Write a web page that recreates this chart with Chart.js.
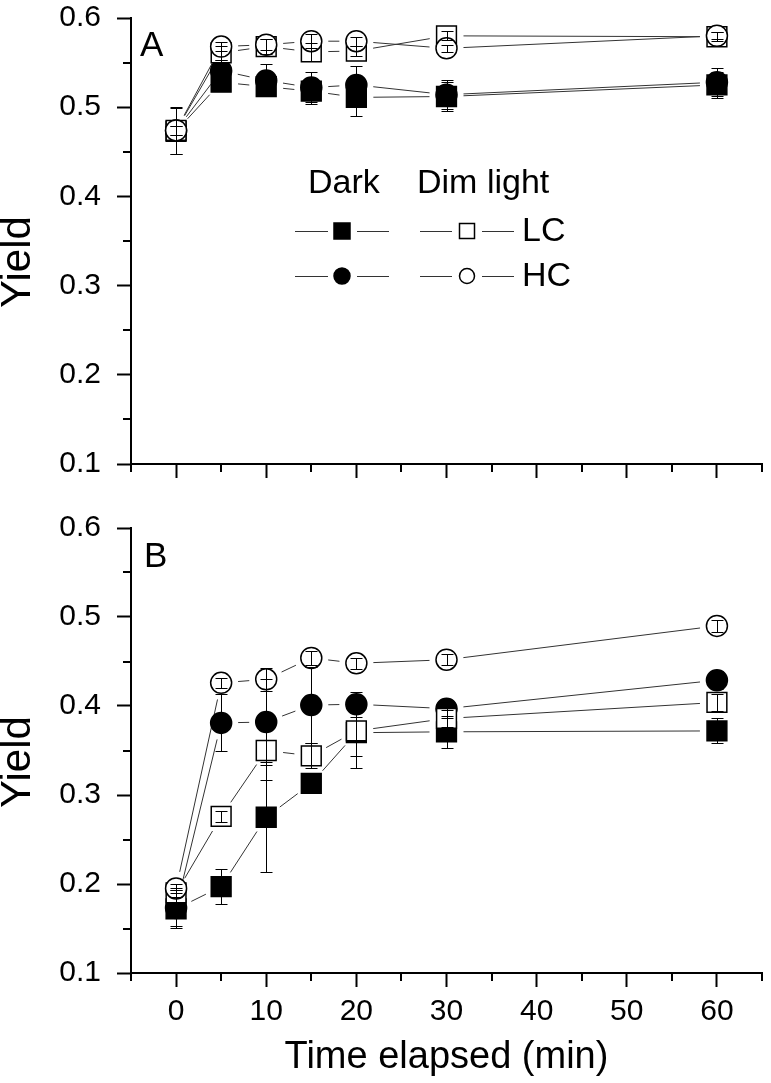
<!DOCTYPE html>
<html>
<head>
    <title>Yield over time</title>
    <script src="https://cdn.jsdelivr.net/npm/chart.js"></script>
    <style>
        body { margin: 0; background: #fff; }
        #wrap { position: relative; width: 771px; height: 1083px; }
        #chartA { position: absolute; left: 0; top: 0; }
        #chartB { position: absolute; left: 0; top: 490px; }
    </style>
</head>
<body>
    <div id="wrap">
        <canvas id="chartA" width="771" height="490"></canvas>
        <canvas id="chartB" width="771" height="593"></canvas>
    </div>

    <script>
        // time points (min) and axis ticks
        const times = [0, 5, 10, 15, 20, 30, 60];
        const xTicks = [0, 10, 20, 30, 40, 50, 60];
        const xMinor = [-5, 5, 15, 25, 35, 45, 55, 65];
        const yTicks = [0.1, 0.2, 0.3, 0.4, 0.5, 0.6];
        const yMinor = [0.15, 0.25, 0.35, 0.45, 0.55];

        // Panel A
        const aDarkLC = [0.473, 0.528, 0.523, 0.518, 0.511, 0.512, 0.525];
        const aDarkLCErr = [0.026, 0.010, 0.010, 0.012, 0.021, 0.016, 0.015];
        const aDarkHC = [0.474, 0.541, 0.530, 0.522, 0.525, 0.514, 0.528];
        const aDarkHCErr = [0.026, 0.012, 0.018, 0.018, 0.021, 0.016, 0.016];
        const aDimLC = [0.474, 0.561, 0.568, 0.562, 0.563, 0.580, 0.579];
        const aDimLCErr = [0.005, 0.008, 0.008, 0.010, 0.006, 0.005, 0.005];
        const aDimHC = [0.474, 0.568, 0.570, 0.574, 0.574, 0.566, 0.580];
        const aDimHCErr = [0.005, 0.005, 0.006, 0.008, 0.005, 0.004, 0.004];

        // Panel B
        const bDarkLC = [0.172, 0.197, 0.275, 0.313, 0.370, 0.371, 0.372];
        const bDarkLCErr = [0.021, 0.020, 0.062, 0.008, 0.040, 0.018, 0.014];
        const bDarkHC = [0.173, 0.381, 0.382, 0.401, 0.402, 0.397, 0.429];
        const bDarkHCErr = [0.020, 0.032, 0.048, 0.043, 0.014, 0.010, 0.010];
        const bDimLC = [0.190, 0.276, 0.350, 0.344, 0.372, 0.386, 0.404];
        const bDimLCErr = [0.005, 0.006, 0.033, 0.014, 0.028, 0.010, 0.010];
        const bDimHC = [0.195, 0.426, 0.430, 0.454, 0.448, 0.452, 0.490];
        const bDimHCErr = [0.005, 0.006, 0.013, 0.008, 0.006, 0.006, 0.007];

        const FONT = "'Liberation Sans', Arial, sans-serif";
        const GAP = 17;

        function pts(vals) {
            return times.map((t, i) => ({ x: t, y: vals[i] }));
        }

        function makeSets(darkLC, darkLCErr, darkHC, darkHCErr, dimLC, dimLCErr, dimHC, dimHCErr) {
            const common = { showLine: false, pointBorderColor: '#000', pointBorderWidth: 1.5 };
            return [
                { ...common, label: 'Dark LC', data: pts(darkLC), errors: darkLCErr,
                  pointStyle: 'rect', pointRadius: 14, pointBackgroundColor: '#000', order: 3 },
                { ...common, label: 'Dark HC', data: pts(darkHC), errors: darkHCErr,
                  pointStyle: 'circle', pointRadius: 10.5, pointBackgroundColor: '#000', order: 2 },
                { ...common, label: 'Dim light LC', data: pts(dimLC), errors: dimLCErr,
                  pointStyle: 'rect', pointRadius: 14, pointBackgroundColor: '#fff', order: 1 },
                { ...common, label: 'Dim light HC', data: pts(dimHC), errors: dimHCErr,
                  pointStyle: 'circle', pointRadius: 10.5, pointBackgroundColor: '#fff', order: 0 }
            ];
        }

        function makeScales(showX, xHeight) {
            return {
                x: {
                    type: 'linear', min: -5, max: 65,
                    afterBuildTicks: s => { s.ticks = xTicks.map(v => ({ value: v })); },
                    afterFit: s => { s.height = xHeight; s.paddingLeft = 0; s.paddingRight = 0; },
                    grid: { drawOnChartArea: false, drawTicks: true, tickLength: 14, tickWidth: 2, tickColor: '#000' },
                    border: { display: true, color: '#000', width: 2 },
                    ticks: { display: showX, color: '#000', padding: 7, maxRotation: 0, autoSkip: false,
                             font: { family: FONT, size: 30 } },
                    title: { display: showX, text: 'Time elapsed (min)', color: '#000',
                             font: { family: FONT, size: 38 }, padding: { top: 0, bottom: 3 } }
                },
                y: {
                    min: 0.1, max: 0.6,
                    afterBuildTicks: s => { s.ticks = yTicks.map(v => ({ value: v })); },
                    afterFit: s => { s.width = 131; s.paddingTop = 0; s.paddingBottom = 0; },
                    grid: { drawOnChartArea: false, drawTicks: true, tickLength: 14, tickWidth: 2, tickColor: '#000' },
                    border: { display: true, color: '#000', width: 2 },
                    ticks: { color: '#000', padding: 16, font: { family: FONT, size: 30 },
                             callback: v => v.toFixed(1) },
                    title: { display: false }
                }
            };
        }

        // connecting lines with a gap around each marker
        const gapLines = {
            id: 'gapLines',
            beforeDatasetsDraw(chart) {
                const ctx = chart.ctx;
                ctx.save();
                ctx.strokeStyle = '#333';
                ctx.lineWidth = 1;
                chart.data.datasets.forEach((ds, i) => {
                    const p = chart.getDatasetMeta(i).data;
                    for (let j = 1; j < p.length; j++) {
                        const dx = p[j].x - p[j - 1].x, dy = p[j].y - p[j - 1].y;
                        const len = Math.hypot(dx, dy);
                        if (len <= 2 * GAP + 2) continue;
                        const ux = dx / len, uy = dy / len;
                        ctx.beginPath();
                        ctx.moveTo(p[j - 1].x + ux * GAP, p[j - 1].y + uy * GAP);
                        ctx.lineTo(p[j].x - ux * GAP, p[j].y - uy * GAP);
                        ctx.stroke();
                    }
                });
                ctx.restore();
            }
        };

        const errorBars = {
            id: 'errorBars',
            afterDatasetsDraw(chart) {
                const ctx = chart.ctx, y = chart.scales.y;
                ctx.save();
                ctx.strokeStyle = '#000';
                ctx.lineWidth = 1;
                chart.data.datasets.forEach((ds, i) => {
                    chart.getDatasetMeta(i).data.forEach((pt, j) => {
                        const e = ds.errors[j];
                        const x = Math.round(pt.x) + 0.5;
                        const top = Math.round(y.getPixelForValue(ds.data[j].y + e)) + 0.5;
                        const bot = Math.round(y.getPixelForValue(ds.data[j].y - e)) + 0.5;
                        ctx.beginPath();
                        ctx.moveTo(x, top); ctx.lineTo(x, bot);
                        ctx.moveTo(x - 6, top); ctx.lineTo(x + 6, top);
                        ctx.moveTo(x - 6, bot); ctx.lineTo(x + 6, bot);
                        ctx.stroke();
                    });
                });
                ctx.restore();
            }
        };

        const minorTicks = {
            id: 'minorTicks',
            afterDraw(chart) {
                const { ctx, chartArea: a, scales: { x, y } } = chart;
                ctx.save();
                ctx.strokeStyle = '#000';
                ctx.lineWidth = 2;
                ctx.beginPath();
                xMinor.forEach(v => {
                    const px = Math.round(x.getPixelForValue(v));
                    ctx.moveTo(px, a.bottom); ctx.lineTo(px, a.bottom + 8);
                });
                yMinor.forEach(v => {
                    const py = Math.round(y.getPixelForValue(v));
                    ctx.moveTo(a.left, py); ctx.lineTo(a.left - 8, py);
                });
                ctx.stroke();
                ctx.restore();
            }
        };

        // rotated y-axis title, sitting a little below the axis centre as in the figure
        function yTitle(centerY) {
            return {
                id: 'yTitle',
                afterDraw(chart) {
                    const ctx = chart.ctx;
                    ctx.save();
                    ctx.translate(18, centerY);
                    ctx.rotate(-Math.PI / 2);
                    ctx.fillStyle = '#000';
                    ctx.font = '42px ' + FONT;
                    ctx.textAlign = 'center';
                    ctx.textBaseline = 'middle';
                    ctx.fillText('Yield', 0, 0);
                    ctx.restore();
                }
            };
        }

        function marker(ctx, style, x, y, size, filled) {
            ctx.beginPath();
            if (style === 'rect') ctx.rect(x - size / 2, y - size / 2, size, size);
            else ctx.arc(x, y, size / 2, 0, Math.PI * 2);
            ctx.fillStyle = filled ? '#000' : '#fff';
            ctx.fill();
            ctx.lineWidth = 1.5;
            ctx.strokeStyle = '#000';
            ctx.stroke();
        }

        function panelLabel(letter, x, y) {
            return {
                id: 'panel' + letter,
                afterDraw(chart) {
                    const ctx = chart.ctx;
                    ctx.save();
                    ctx.fillStyle = '#000';
                    ctx.font = '35px ' + FONT;
                    ctx.textBaseline = 'middle';
                    ctx.fillText(letter, x, y);
                    ctx.restore();
                }
            };
        }

        // legend drawn inside panel A
        const legendA = {
            id: 'legendA',
            afterDraw(chart) {
                const ctx = chart.ctx;
                ctx.save();
                ctx.fillStyle = '#000';
                ctx.textBaseline = 'middle';
                ctx.font = '34px ' + FONT;
                ctx.fillText('Dark', 308, 184);
                ctx.fillText('Dim light', 417, 184);
                const rows = [{ y: 231, style: 'rect', text: 'LC' }, { y: 276, style: 'circle', text: 'HC' }];
                rows.forEach(r => {
                    ctx.strokeStyle = '#333';
                    ctx.lineWidth = 1;
                    ctx.beginPath();
                    ctx.moveTo(295, r.y + 0.5); ctx.lineTo(328, r.y + 0.5);
                    ctx.moveTo(357, r.y + 0.5); ctx.lineTo(389, r.y + 0.5);
                    ctx.moveTo(420, r.y + 0.5); ctx.lineTo(452, r.y + 0.5);
                    ctx.moveTo(482, r.y + 0.5); ctx.lineTo(514, r.y + 0.5);
                    ctx.stroke();
                    marker(ctx, r.style, 342, r.y, 16, true);
                    marker(ctx, r.style, 467, r.y, 15, false);
                    ctx.fillStyle = '#000';
                    ctx.font = '34px ' + FONT;
                    ctx.fillText(r.text, 522, r.y + 1);
                });
                ctx.restore();
            }
        };

        function makeChart(id, datasets, showX, xHeight, padTop, extra) {
            return new Chart(document.getElementById(id), {
                type: 'scatter',
                data: { datasets: datasets },
                options: {
                    responsive: false,
                    animation: false,
                    events: [],
                    layout: { autoPadding: false, padding: { top: padTop, right: 9, left: 0, bottom: 0 } },
                    plugins: { legend: { display: false }, tooltip: { enabled: false } },
                    scales: makeScales(showX, xHeight)
                },
                plugins: [gapLines, errorBars, minorTicks].concat(extra)
            });
        }

        makeChart('chartA',
            makeSets(aDarkLC, aDarkLCErr, aDarkHC, aDarkHCErr, aDimLC, aDimLCErr, aDimHC, aDimHCErr),
            false, 26, 18, [panelLabel('A', 140, 46), legendA, yTitle(262)]);

        makeChart('chartB',
            makeSets(bDarkLC, bDarkLCErr, bDarkHC, bDarkHCErr, bDimLC, bDimLCErr, bDimHC, bDimHCErr),
            true, 110, 38, [panelLabel('B', 144, 67), yTitle(272)]);
    </script>
</body>
</html>
